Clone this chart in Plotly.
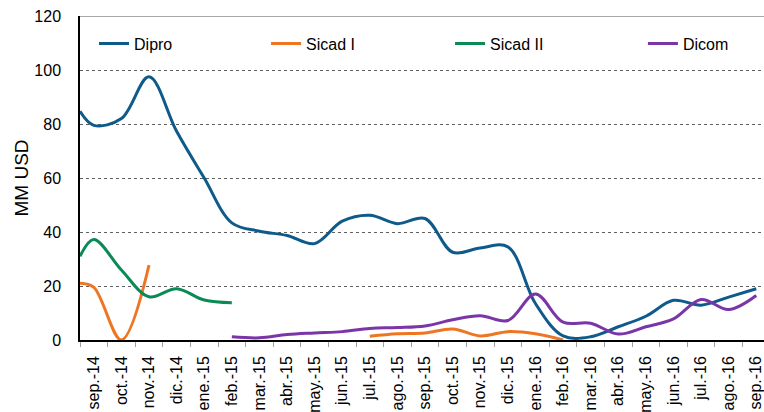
import plotly.graph_objects as go

# Month labels (category axis)
months = ["sep.-14", "oct.-14", "nov.-14", "dic.-14", "ene.-15", "feb.-15", "mar.-15",
          "abr.-15", "may.-15", "jun.-15", "jul.-15", "ago.-15", "sep.-15", "oct.-15",
          "nov.-15", "dic.-15", "ene.-16", "feb.-16", "mar.-16", "abr.-16", "may.-16",
          "jun.-16", "jul.-16", "ago.-16", "sep.-16"]

# Observation positions (month index; -0.5 = start of sep.-14)
obs_x = [-0.5, 0, 1, 2, 3, 4, 5, 6, 7, 8, 9, 10, 11, 12, 13, 14, 15, 16, 17, 18,
         19, 20, 21, 22, 23, 24]

dipro = [84.7, 79.5, 82.0, 97.5, 77.3, 60.0, 43.4, 40.3, 38.7, 35.7, 44.0, 46.2, 43.1,
         45.0, 32.5, 34.1, 34.5, 13.5, 1.5, 1.2, 4.9, 8.8, 14.7, 12.9, 15.9, 19.0]
sicad1 = [21.0, 19.5, 0.0, 27.7, None, None, None, None, None, None, None, 1.4, 2.3,
          2.6, 4.1, 1.5, 3.1, 2.3, 0.0, None, None, None, None, None, None, None]
sicad2 = [31.0, 37.2, 25.9, 16.0, 19.0, 14.8, 13.8, None, None, None, None, None, None,
          None, None, None, None, None, None, None, None, None, None, None, None, None]
dicom = [None, None, None, None, None, None, 1.2, 0.8, 2.0, 2.6, 3.1, 4.3, 4.6, 5.2,
         7.5, 9.0, 7.2, 17.0, 6.6, 6.2, 2.2, 4.9, 7.8, 15.0, 11.3, 16.5]

series = [
    ("Dipro", dipro, "#0E5A8A", "legend2", 0.0205),
    ("Sicad I", sicad1, "#EE7623", "legend3", 0.272),
    ("Sicad II", sicad2, "#0A8A55", "legend4", 0.541),
    ("Dicom", dicom, "#7A35A8", "legend5", 0.823),
]

FONT = "Liberation Sans, Arial, sans-serif"

fig = go.Figure()
legends = {}
leg_y = 0.9145
for name, vals, color, lg, lx in series:
    fig.add_trace(go.Scatter(
        x=obs_x, y=vals, name=name, mode="lines",
        line=dict(color=color, width=3, shape="spline", smoothing=1.0),
        connectgaps=False, legend=lg, showlegend=True,
    ))
    legends[lg] = dict(
        x=lx, y=leg_y, orientation="h", yanchor="middle", xanchor="left",
        bgcolor="rgba(0,0,0,0)", font=dict(family=FONT, size=16, color="#000000"),
        borderwidth=0, itemwidth=30,
    )

fig.update_layout(**legends)

fig.update_layout(
    width=764, height=412,
    margin=dict(l=80, r=0, t=16, b=72, autoexpand=False),
    plot_bgcolor="white", paper_bgcolor="white",
    font=dict(family=FONT, size=16, color="#000000"),
    showlegend=True,
    xaxis=dict(
        range=[-0.5, 24.28],
        automargin=False,
        tickmode="array",
        tickvals=list(range(len(months))),
        ticktext=months,
        tickangle=-90,
        ticklabeloverflow="allow",
        ticks="outside", ticklen=5, tickcolor="rgba(0,0,0,0)",
        ticklabelstandoff=3,
        tickfont=dict(family=FONT, size=16, color="#000000"),
        showgrid=False, zeroline=False,
        showline=True, linecolor="#000000", linewidth=1.5,
        minor=dict(tickmode="array",
                   tickvals=[i - 0.5 for i in range(len(months) + 1)],
                   ticks="outside", ticklen=5, tickcolor="#a0a0a0", tickwidth=1,
                   showgrid=False),
    ),
    yaxis=dict(
        range=[0, 120], dtick=20, tick0=0,
        automargin=True,
        title=dict(text="MM USD", font=dict(family=FONT, size=19, color="#000000"),
                   standoff=1),
        tickfont=dict(family=FONT, size=16, color="#000000"),
        ticks="", ticklabelstandoff=14,
        showgrid=True, gridcolor="#606060", gridwidth=1, griddash="dot",
        zeroline=False,
        showline=True, linecolor="#000000", linewidth=1.5,
    ),
    shapes=[dict(type="line", xref="paper", yref="y", x0=0, x1=1, y0=120, y1=120,
                 line=dict(color="#8a8a8a", width=1.5))],
)

fig.write_html(
    "out.html",
    config={"displayModeBar": False},
    post_script="document.body.style.margin='0';document.body.style.overflow='hidden';",
)
